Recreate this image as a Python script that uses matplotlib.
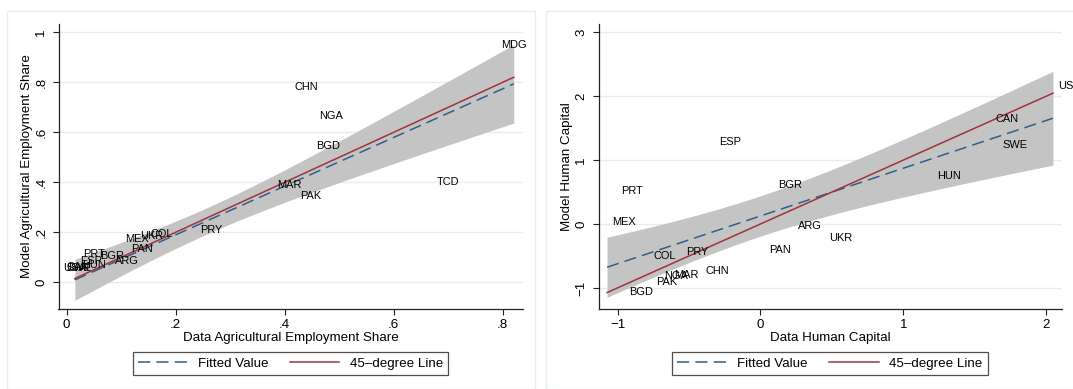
import numpy as np
import matplotlib
matplotlib.use("Agg")
import matplotlib.pyplot as plt
from matplotlib.patches import Rectangle
from matplotlib.ticker import FuncFormatter

plt.rcParams['font.family'] = ['Liberation Sans', 'DejaVu Sans']

# left panel: agricultural employment share
ag_countries = ['USA', 'CAN', 'SWE', 'HUN', 'ESP', 'PRT', 'BGR', 'ARG', 'PAN',
                'MEX', 'UKR', 'COL', 'PRY', 'MAR', 'PAK', 'BGD', 'NGA', 'CHN',
                'TCD', 'MDG']
ag_data = [0.015, 0.020, 0.022, 0.050, 0.045, 0.050, 0.084, 0.110, 0.139,
           0.129, 0.155, 0.174, 0.265, 0.408, 0.447, 0.480, 0.485, 0.440,
           0.699, 0.820]
ag_model = [0.058, 0.062, 0.056, 0.070, 0.083, 0.114, 0.105, 0.085, 0.135,
            0.172, 0.185, 0.192, 0.209, 0.390, 0.345, 0.545, 0.665, 0.780,
            0.400, 0.949]

# left fit and CI band (intercept, slope, x-bar,
# and the two terms of the squared half-width)
ag_fit = [-0.005, 0.974]
ag_ci = [0.255, 0.00278, 0.0684]

# right panel: human capital
hc_countries = ['USA', 'CAN', 'SWE', 'HUN', 'ESP', 'BGR', 'PRT', 'MEX', 'ARG',
                'UKR', 'PAN', 'COL', 'PRY', 'CHN', 'NGA', 'MAR', 'PAK', 'BGD']
hc_data = [2.047, 1.610, 1.656, 1.202, -0.322, 0.091, -1.013, -1.073, 0.230,
           0.446, 0.026, -0.785, -0.554, -0.420, -0.708, -0.641, -0.763, -0.958]
hc_model = [2.160, 1.643, 1.236, 0.751, 1.278, 0.610, 0.516, 0.031, -0.031,
            -0.219, -0.407, -0.501, -0.443, -0.736, -0.814, -0.798, -0.902, -1.064]

# t critical values (95%) by degrees of freedom
t_crit = {16: 2.120, 18: 2.101}

navy = '#2f5f8a'
maroon = '#a0333d'
band = '#c4c4c4'
grid = '#e4eef0'


def ols_params(x, y):
    x = np.asarray(x)
    y = np.asarray(y)
    n = len(x)
    b, a = np.polyfit(x, y, 1)
    s2 = np.sum((y - (a + b * x)) ** 2) / (n - 2)
    sxx = np.sum((x - x.mean()) ** 2)
    t2 = t_crit[n - 2] ** 2
    return [a, b], [x.mean(), t2 * s2 / n, t2 * s2 / sxx]


def draw_fit(ax, x, fit, ci):
    a, b = fit
    xbar, ca, cb = ci
    xs = np.linspace(min(x), max(x), 100)
    yhat = a + b * xs
    hw = np.sqrt(ca + cb * (xs - xbar) ** 2)
    ax.fill_between(xs, yhat - hw, yhat + hw, color=band, lw=0, zorder=1)
    l1, = ax.plot(xs, yhat, color=navy, lw=1.1, ls=(0, (8, 4)), zorder=2)
    l2, = ax.plot([min(x), max(x)], [min(x), max(x)], color=maroon,
                  lw=1.1, zorder=3)
    return l1, l2


def stata_fmt(v, pos):
    if abs(v - round(v)) < 1e-9:
        s = '%d' % round(v)
    else:
        s = ('%g' % v).replace('0.', '.')
    return s.replace('-', '\u2212')


def style(ax, xlabel, ylabel):
    for side in ['top', 'right']:
        ax.spines[side].set_visible(False)
    for side in ['left', 'bottom']:
        ax.spines[side].set_color('#222222')
        ax.spines[side].set_linewidth(0.9)
    ax.yaxis.grid(True, color=grid, lw=1.0, zorder=0)
    ax.set_axisbelow(True)
    ax.tick_params(length=4, width=0.8, color='#222222', labelsize=9.6)
    ax.tick_params(axis='y', labelrotation=90, pad=4)
    ax.tick_params(axis='x', pad=3)
    for t in ax.get_yticklabels():
        t.set_va('center')
    ax.xaxis.set_major_formatter(FuncFormatter(stata_fmt))
    ax.yaxis.set_major_formatter(FuncFormatter(stata_fmt))
    ax.set_xlabel(xlabel, fontsize=9.6, labelpad=1)
    ax.set_ylabel(ylabel, fontsize=9.6, labelpad=2)


fig = plt.figure(figsize=(10.73, 3.89), dpi=100)

# panel frames
fig.patches.append(Rectangle((7 / 1073, 0), 528 / 1073, 378 / 389,
                             transform=fig.transFigure, fill=False,
                             ec='#e6eef0', lw=1.0))
fig.patches.append(Rectangle((546 / 1073, 0), 540 / 1073, 378 / 389,
                             transform=fig.transFigure, fill=False,
                             ec='#e6eef0', lw=1.0))

ax1 = fig.add_axes([58.5 / 1073, 80 / 389, 464 / 1073, 285 / 389])
ax2 = fig.add_axes([598.5 / 1073, 80 / 389, 463 / 1073, 285 / 389])

# left
h1, h2 = draw_fit(ax1, ag_data, ag_fit, ag_ci)
for c, x, y in zip(ag_countries, ag_data, ag_model):
    ax1.text(x, y, c, ha='center', va='center', fontsize=7.9, zorder=5)
ax1.set_xlim(-0.015, 0.836)
ax1.set_ylim(-0.107, 1.033)
ax1.set_xticks([0, 0.2, 0.4, 0.6, 0.8])
ax1.set_yticks([0, 0.2, 0.4, 0.6, 0.8, 1.0])
style(ax1, 'Data Agricultural Employment Share',
      'Model Agricultural Employment Share')

# right
hc_fit, hc_ci = ols_params(hc_data, hc_model)
g1, g2 = draw_fit(ax2, hc_data, hc_fit, hc_ci)
for c, x, y in zip(hc_countries, hc_data, hc_model):
    ax2.annotate(c, (x, y), xytext=(3.7, 0), textcoords='offset points',
                 ha='left', va='center', fontsize=7.9, zorder=5,
                 annotation_clip=False)
ax2.set_xlim(-1.133, 2.107)
ax2.set_ylim(-1.33, 3.13)
ax2.set_xticks([-1, 0, 1, 2])
ax2.set_yticks([-1, 0, 1, 2, 3])
style(ax2, 'Data Human Capital', 'Model Human Capital')

for ax, hs in [(ax1, (h1, h2)), (ax2, (g1, g2))]:
    leg = ax.legend(hs, ['Fitted Value', '45\u2013degree Line'], ncol=2,
                    loc='upper center', bbox_to_anchor=(0.5, -0.151),
                    frameon=True, fancybox=False, fontsize=9.6,
                    handlelength=3.7, columnspacing=1.6, borderpad=0.4,
                    handletextpad=0.8, borderaxespad=0)
    leg.get_frame().set_edgecolor('#222222')
    leg.get_frame().set_linewidth(0.9)

fig.savefig('out.png', dpi=100)
